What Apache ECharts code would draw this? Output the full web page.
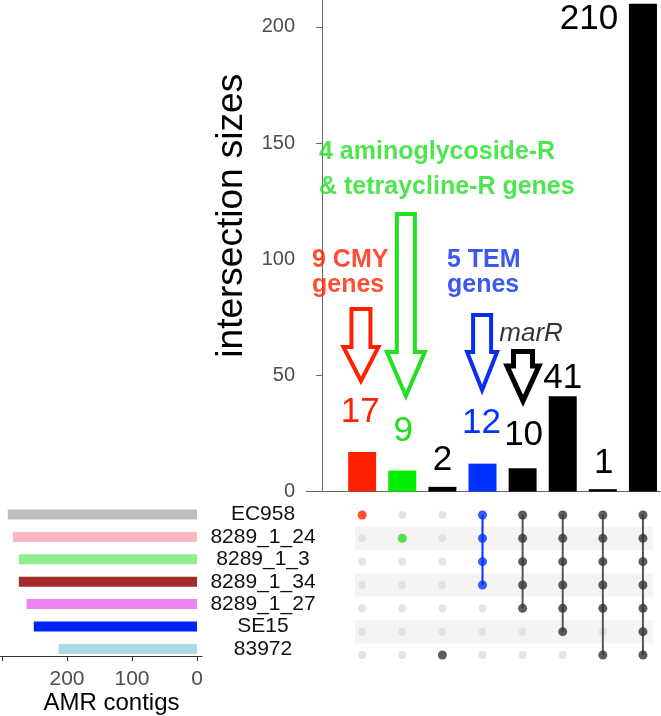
<!DOCTYPE html>
<html>
<head>
<meta charset="utf-8">
<script src="https://cdn.jsdelivr.net/npm/echarts@6/dist/echarts.min.js"></script>
<style>
html,body{margin:0;padding:0;background:#fff;}
#chart{width:661px;height:716px;}
</style>
</head>
<body>
<div id="chart"></div>
<script>
// ---------- data ----------
const setNames = ['EC958', '8289_1_24', '8289_1_3', '8289_1_34', '8289_1_27', 'SE15', '83972'];
const setSizes = [291, 283, 274, 274, 262, 251, 213];
const setColors = ['#bebebe', '#ffb6c1', '#90ee90', '#a52a2a', '#ee82ee', '#0022ff', '#add8e6'];

const intersectionSizes = [17, 9, 2, 12, 10, 41, 1, 210];
const intersectionMembers = [
  ['EC958'],
  ['8289_1_24'],
  ['83972'],
  ['EC958', '8289_1_24', '8289_1_3', '8289_1_34'],
  ['EC958', '8289_1_24', '8289_1_3', '8289_1_34', '8289_1_27'],
  ['EC958', '8289_1_24', '8289_1_3', '8289_1_34', '8289_1_27', 'SE15'],
  ['EC958', '8289_1_24', '8289_1_3', '8289_1_34', '8289_1_27', '83972'],
  ['EC958', '8289_1_24', '8289_1_3', '8289_1_34', '8289_1_27', 'SE15', '83972']
];
const barColors = ['#ff2200', '#00ee00', '#000000', '#0033ff', '#000000', '#000000', '#000000', '#000000'];
const dotColors = ['#ff2200', '#22dd22', '#333333', '#0033ff', '#333333', '#333333', '#333333', '#333333'];
const numberColors = ['#ff2200', '#22dd22', '#000000', '#0033ff', '#000000', '#000000', '#000000', '#000000'];
const yTicks = [0, 50, 100, 150, 200];
const setTicks = [0, 100, 200, 300];
const setTickLabels = [0, 100, 200];

// annotation texts (anchor in data coords: column position, value)
const noteTexts = ['9 CMY\ngenes', '5 TEM\ngenes', '4 aminoglycoside-R\n& tetraycline-R genes', 'marR'];
const noteAnchors = [[-0.25, 94.3], [3.115, 94.3], [-0.076, 138.6], [5.21, 68.0]];
const noteColors = ['#ff2200', '#0a2ef0', '#22e022', '#000000'];

// arrows: [column position, shaft top value, head base value, tip value]
const arrowData = [
  [0.97, 78.6, 62.2, 47.6],
  [2.09, 119.5, 60.1, 41.1],
  [3.99, 76.0, 60.1, 43.7],
  [5.01, 60.3, 54.0, 39.0]
];
const arrowColors = ['#ff2200', '#22e022', '#0a2ef0', '#000000'];

// ---------- styling (not data) ----------
const FONT = 'Liberation Sans, Arial, sans-serif';
const labelOffsets = [[-2, -40], [1, -39], [0, -27], [-1, -40], [1, -33], [0, -18], [1, -26], [-54, 16]];
const arrowHalfWidths = [[9.5, 17.5], [9, 19], [9, 15], [9.5, 16]];
const arrowLineWidths = [4, 4, 4, 5];
const noteStyles = [
  { fontWeight: 'bold', fontSize: 25, lineHeight: 25, align: 'left' },
  { fontWeight: 'bold', fontSize: 25, lineHeight: 25, align: 'left' },
  { fontWeight: 'bold', fontSize: 25, lineHeight: 35, align: 'left' },
  { fontStyle: 'italic', fontSize: 26, lineHeight: 26, align: 'center' }
];

// ---------- derived ----------
const barData = intersectionSizes.map((v, i) => ({
  value: [i + 1, v],
  itemStyle: { color: barColors[i] },
  label: {
    color: numberColors[i],
    offset: labelOffsets[i]
  }
}));

const bgDots = [];
const activeDots = [];
const segs = [];
intersectionMembers.forEach((mem, i) => {
  const rows = mem.map(n => setNames.indexOf(n));
  setNames.forEach((n, r) => {
    if (rows.indexOf(r) >= 0) {
      activeDots.push({ value: [i + 1, r], itemStyle: { color: dotColors[i] } });
    } else {
      bgDots.push([i + 1, r]);
    }
  });
  if (rows.length > 1) {
    segs.push([i + 1, Math.min.apply(null, rows), Math.max.apply(null, rows), i]);
  }
});

const bands = [];
setNames.forEach((n, r) => {
  if (r % 2 === 1) bands.push([{ xAxis: 0.82, yAxis: r - 0.5 }, { xAxis: 8.25, yAxis: r + 0.5 }]);
});

const setBarData = setSizes.map((v, i) => ({ value: v, itemStyle: { color: setColors[i] } }));

const noteData = noteTexts.map((t, i) => ({
  value: noteAnchors[i],
  label: Object.assign({ formatter: t, color: noteColors[i] }, noteStyles[i])
}));

const chart = echarts.init(document.getElementById('chart'), null, { renderer: 'canvas' });

const option = {
  backgroundColor: '#ffffff',
  animation: false,
  textStyle: { fontFamily: FONT },
  grid: [
    { left: 306, width: 355, top: 0, height: 491.5 },
    { left: 306, width: 355, top: 503.33, height: 163.33 },
    { left: 0, width: 202, top: 503.33, height: 163.33 }
  ],
  xAxis: [
    {
      gridIndex: 0, type: 'value', min: -0.4, max: 8.45,
      axisLine: { show: true, lineStyle: { color: '#666666', width: 1 } },
      axisTick: { show: false }, axisLabel: { show: false }, splitLine: { show: false }
    },
    {
      gridIndex: 1, type: 'value', min: -0.4, max: 8.45, show: false,
      splitLine: { show: false }
    },
    {
      gridIndex: 2, type: 'value', inverse: true, min: -7.7, max: 303,
      offset: -4,
      axisLine: { show: true, lineStyle: { color: '#333333', width: 1 } },
      axisTick: { show: true, length: 5, lineStyle: { color: '#333333' }, customValues: setTicks },
      axisLabel: { show: true, fontSize: 21, color: '#4d4d4d', margin: 13, fontFamily: FONT, customValues: setTickLabels },
      splitLine: { show: false },
      name: 'AMR contigs', nameLocation: 'middle', nameGap: 30,
      nameTextStyle: { fontSize: 24, color: '#000000', fontFamily: FONT, padding: [0, 0, 0, 21] }
    }
  ],
  yAxis: [
    {
      gridIndex: 0, type: 'value', min: 0, max: 211.6, interval: 50,
      axisLine: { show: true, lineStyle: { color: '#666666', width: 1 } },
      axisTick: { show: true, length: 6, lineStyle: { color: '#666666' }, customValues: yTicks },
      axisLabel: { fontSize: 20, color: '#4d4d4d', margin: 11, fontFamily: FONT, customValues: yTicks },
      splitLine: { show: false },
      name: 'intersection sizes', nameLocation: 'middle', nameGap: 48,
      nameTextStyle: { fontSize: 37, color: '#000000', fontFamily: FONT, padding: [0, 0, 0, 60] }
    },
    {
      gridIndex: 1, type: 'value', min: -0.5, max: 6.5, inverse: true, show: false,
      splitLine: { show: false }
    },
    {
      gridIndex: 2, type: 'category', data: setNames, inverse: true, position: 'right',
      axisLine: { show: false }, axisTick: { show: false },
      axisLabel: { interval: 0, fontSize: 21, color: '#111111', margin: 61, align: 'center', fontFamily: FONT }
    }
  ],
  series: [
    {
      type: 'bar', xAxisIndex: 0, yAxisIndex: 0, barWidth: 28,
      data: barData,
      label: {
        show: true, position: 'top', distance: 0, verticalAlign: 'middle', align: 'center',
        fontSize: 35, fontFamily: FONT, formatter: p => String(p.value[1])
      },
      z: 2
    },
    {
      type: 'custom', xAxisIndex: 0, yAxisIndex: 0,
      data: arrowData,
      renderItem: function (params, api) {
        const i = params.dataIndex;
        const pt = api.coord([api.value(0), api.value(1)]);
        const pb = api.coord([api.value(0), api.value(2)]);
        const pp = api.coord([api.value(0), api.value(3)]);
        const cx = pt[0];
        const s = arrowHalfWidths[i][0], h = arrowHalfWidths[i][1];
        return {
          type: 'polygon',
          shape: { points: [[cx - s, pt[1]], [cx + s, pt[1]], [cx + s, pb[1]], [cx + h, pb[1]], [cx, pp[1]], [cx - h, pb[1]], [cx - s, pb[1]]] },
          style: { fill: 'none', stroke: arrowColors[i], lineWidth: arrowLineWidths[i], lineJoin: 'miter', miterLimit: 20 }
        };
      },
      z: 3
    },
    {
      type: 'scatter', xAxisIndex: 0, yAxisIndex: 0,
      symbolSize: 1, itemStyle: { color: 'rgba(0,0,0,0)' },
      data: noteData,
      label: { show: true, position: 'inside', verticalAlign: 'middle', fontFamily: FONT },
      z: 4
    },
    {
      type: 'scatter', xAxisIndex: 1, yAxisIndex: 1,
      symbolSize: 8, itemStyle: { color: '#dddddd' },
      data: bgDots,
      markArea: { silent: true, itemStyle: { color: '#f4f4f4' }, data: bands },
      z: 2
    },
    {
      type: 'custom', xAxisIndex: 1, yAxisIndex: 1,
      data: segs,
      renderItem: function (params, api) {
        const a = api.coord([api.value(0), api.value(1)]);
        const b = api.coord([api.value(0), api.value(2)]);
        const col = api.value(3);
        return {
          type: 'line',
          shape: { x1: a[0], y1: a[1], x2: b[0], y2: b[1] },
          style: { stroke: col === 3 ? '#0033ff' : '#555555', lineWidth: 2 }
        };
      },
      z: 3
    },
    {
      type: 'scatter', xAxisIndex: 1, yAxisIndex: 1,
      symbolSize: 9,
      data: activeDots,
      z: 4
    },
    {
      type: 'bar', xAxisIndex: 2, yAxisIndex: 2, barWidth: 10,
      data: setBarData
    }
  ]
};
chart.setOption(option);
</script>
</body>
</html>
